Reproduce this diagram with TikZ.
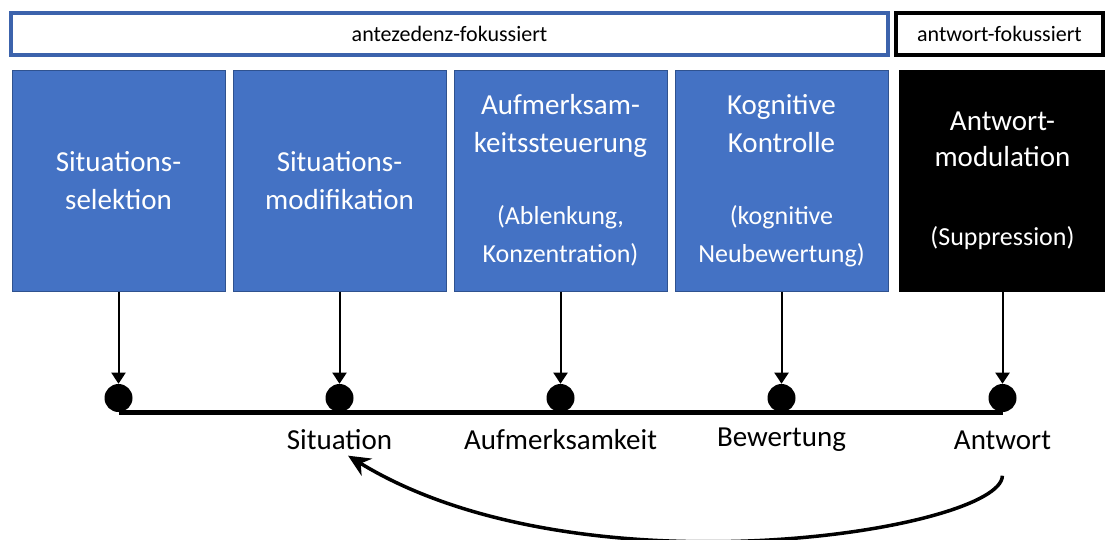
\documentclass[tikz,border=0pt]{standalone}
\usepackage{fontspec}
\setmainfont{Carlito}
\usepackage{xcolor}
\usepackage{tikz}
\usetikzlibrary{arrows.meta}

\definecolor{boxblue}{HTML}{4472C4}
\definecolor{boxedge}{HTML}{2F528F}
\definecolor{bandedge}{HTML}{3C63AC}

\begin{document}
\begin{tikzpicture}[x=1pt, y=-1pt, node distance=221pt, semithick,
  phase/.style={rectangle, draw=boxedge, line width=1pt, fill=boxblue, text=white, minimum width=213pt, minimum height=221pt, text width=205pt, align=center, inner sep=0pt, font=\fontsize{29}{38}\selectfont},
  band/.style={rectangle, line width=4pt, fill=white, minimum height=42pt, inner sep=0pt, font=\fontsize{22}{26}\selectfont},
  dot/.style={circle, fill=black, minimum size=28pt, inner sep=0pt},
  lab/.style={inner sep=0pt, font=\fontsize{29}{35}\selectfont},
  feed/.style={-{Triangle[width=14pt,length=11pt]}, line width=2pt}]

\useasboundingbox (0,0) rectangle (1105,539);

\node[band, draw=bandedge, minimum width=877pt] (ante) at (449.5,34) {antezedenz-fokussiert};
\node[band, draw=black, minimum width=207pt] (antw) at (999.5,34) {antwort-fokussiert};

\node[phase] (s1) at (118.5,180.5) {Situations-\\selektion};
\node[phase] (s2) [right of=s1] {Situations-\\modifikation};
\node[phase] (s3) [right of=s2] {Aufmerksam-\\keitssteuerung\par\vspace{43pt}\fontsize{26}{29}\selectfont(Ablenkung,\\Konzentration)};
\node[phase] (s4) [right of=s3] {Kognitive\\Kontrolle\par\vspace{43pt}\fontsize{26}{29}\selectfont(kognitive\\Neubewertung)};
\node[phase, fill=black, draw=black, minimum width=207pt] (s5) [right of=s4] {\fontsize{29}{36}\selectfont Antwort-\\modulation\par\vspace{41pt}\fontsize{26}{29}\selectfont(Suppression)};

\node[dot] (p1) [below of=s1, node distance=217.5pt] {};
\node[dot] (p2) [below of=s2, node distance=217.5pt] {};
\node[dot] (p3) [below of=s3, node distance=217.5pt] {};
\node[dot] (p4) [below of=s4, node distance=217.5pt] {};
\node[dot] (p5) [below of=s5, node distance=217.5pt] {};

\node[lab] (l2) [below of=p2, node distance=42pt] {Situation};
\node[lab] (l3) [below of=p3, node distance=42pt] {Aufmerksamkeit};
\node[lab] (l4) [below of=p4, node distance=42pt] {Bewertung};
\node[lab] (l5) [below of=p5, node distance=42pt] {Antwort};

\draw[line width=5pt] (p1.south) -- (p5.south);

\draw[feed] (s1) -- (p1);
\draw[feed] (s2) -- (p2);
\draw[feed] (s3) -- (p3);
\draw[feed] (s4) -- (p4);
\draw[feed] (s5) -- (p5);

\draw[line width=3.5pt, -{Stealth[length=22pt,width=20pt]}, shorten <=26pt, shorten >=10pt]
  (l5.south) .. controls (1002,530) and (580,598) .. (l2.south);
\end{tikzpicture}
\end{document}
